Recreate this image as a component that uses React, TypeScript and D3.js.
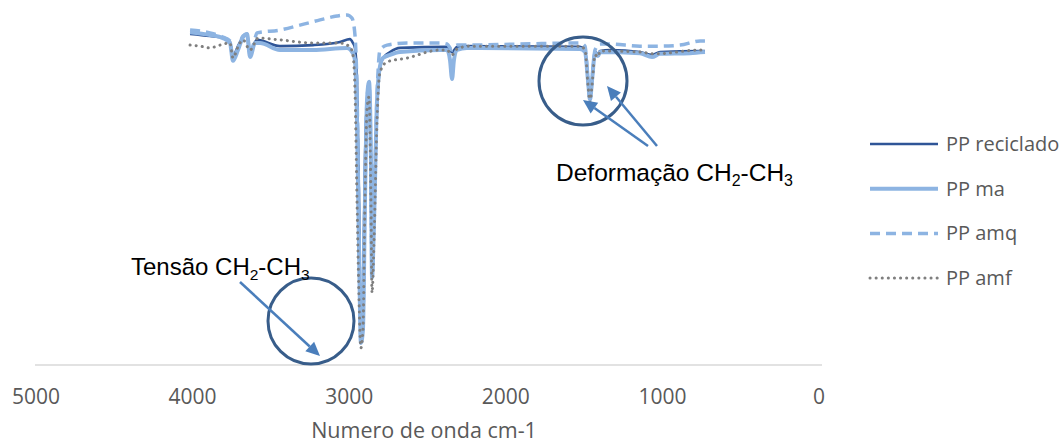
import React from "react";
import * as d3 from "d3";

type Pt = [number, number];

// wavenumber (cm-1), transmittance (%)
const ppReciclado: Pt[] = [
  [4029, 94.6], [3902, 94.0], [3806, 93.4], [3774, 92.3], [3755, 88.3], [3723, 91.1], [3691, 93.7], [3665, 94.3],
  [3646, 89.1], [3614, 92.3], [3602, 92.9], [3455, 91.1], [3244, 91.4], [3072, 92.3], [3008, 93.1], [2989, 92.0],
  [2976, 90.6], [2963, 81.4], [2950, 47.1], [2938, 7.7], [2925, 18.6], [2912, 58.6], [2899, 75.7], [2886, 80.3],
  [2874, 52.9], [2867, 25.7], [2854, 47.1], [2835, 72.9], [2816, 84.9], [2797, 87.7], [2752, 89.4], [2688, 90.6],
  [2388, 90.9], [2356, 89.4], [2324, 90.9], [2261, 91.1], [1539, 90.9], [1507, 90.0], [1488, 81.4], [1475, 76.3],
  [1462, 81.4], [1443, 89.4], [1424, 88.9], [1411, 89.7], [1347, 90.0], [1156, 89.4], [1079, 88.6], [1028, 89.4],
  [772, 89.7], [741, 89.7],
];

const ppMa: Pt[] = [
  [4029, 95.1], [3902, 94.3], [3819, 93.4], [3774, 92.0], [3755, 86.9], [3723, 90.0], [3691, 93.7], [3665, 94.6],
  [3646, 88.0], [3614, 92.0], [3582, 92.0], [3455, 90.0], [3244, 90.0], [3027, 90.6], [2989, 89.1], [2976, 87.1],
  [2963, 70.0], [2950, 32.9], [2938, 6.3], [2925, 10.0], [2912, 47.1], [2899, 75.7], [2886, 80.9], [2874, 58.6],
  [2867, 24.9], [2854, 41.4], [2835, 75.7], [2816, 85.4], [2797, 87.7], [2752, 88.6], [2688, 89.4], [2433, 90.0],
  [2388, 90.0], [2369, 87.1], [2356, 81.7], [2344, 87.1], [2324, 90.0], [2261, 90.6], [1539, 90.3], [1507, 89.4],
  [1488, 81.4], [1475, 75.7], [1462, 81.4], [1443, 89.1], [1424, 88.3], [1411, 89.4], [1156, 89.1], [1079, 88.0],
  [1028, 88.9], [837, 89.1], [741, 89.4],
];

const ppAmq: Pt[] = [
  [4029, 95.7], [3902, 94.9], [3819, 93.7], [3774, 92.6], [3755, 87.7], [3723, 90.6], [3691, 94.0], [3665, 94.6],
  [3646, 88.6], [3614, 93.4], [3602, 94.9], [3455, 95.7], [3327, 97.1], [3199, 98.6], [3091, 99.7], [3027, 100],
  [2995, 99.1], [2976, 94.3], [2963, 78.6], [2950, 38.6], [2938, 7.1], [2925, 12.9], [2912, 50.0], [2899, 75.7],
  [2886, 80.3], [2874, 55.7], [2867, 25.4], [2854, 44.3], [2835, 77.1], [2816, 90.0], [2771, 91.4], [2644, 92.0],
  [2433, 92.0], [2388, 91.7], [2356, 90.0], [2324, 91.4], [2261, 91.4], [1922, 91.7], [1539, 92.0], [1507, 91.1],
  [1488, 81.4], [1475, 76.0], [1462, 81.4], [1443, 90.0], [1411, 91.7], [1347, 91.7], [1156, 91.1], [1028, 91.1],
  [900, 91.4], [772, 92.6], [741, 92.6],
];

const ppAmf: Pt[] = [
  [4029, 91.4], [3966, 91.1], [3902, 90.6], [3870, 90.9], [3838, 91.4], [3774, 92.0], [3755, 87.7], [3723, 90.9],
  [3691, 92.9], [3646, 90.0], [3595, 93.4], [3455, 92.9], [3244, 92.0], [3072, 92.0], [3008, 90.9], [2989, 88.6],
  [2976, 78.6], [2963, 47.1], [2950, 18.6], [2938, 4.9], [2925, 10.0], [2912, 47.1], [2899, 72.9], [2886, 76.6],
  [2874, 47.1], [2867, 20.6], [2854, 35.7], [2835, 70.0], [2816, 83.7], [2771, 86.6], [2644, 87.7], [2433, 90.0],
  [2388, 90.0], [2356, 88.6], [2324, 90.3], [2241, 91.1], [1539, 91.1], [1507, 90.0], [1488, 80.0], [1475, 75.1],
  [1462, 80.0], [1443, 88.6], [1424, 88.0], [1411, 89.7], [1156, 89.4], [1060, 88.9], [772, 90.0], [741, 90.0],
];

const xTicks = [5000, 4000, 3000, 2000, 1000, 0];
const xTitle = "Numero de onda cm-1";

const seriesNames = ["PP reciclado", "PP ma", "PP amq", "PP amf"];
const seriesData = [ppReciclado, ppMa, ppAmq, ppAmf];

const annotTensaoLabel = "Tensão";
const annotDeformLabel = "Deformação";

const W = 1064;
const H = 445;

const styles = [
  { color: "#2F5597", width: 2.6, dash: undefined as string | undefined, cap: "butt" },
  { color: "#8DB4E2", width: 4, dash: undefined as string | undefined, cap: "butt" },
  { color: "#8DB4E2", width: 3.5, dash: "10,6", cap: "butt" },
  { color: "#7F7F7F", width: 3, dash: "0.1,6", cap: "round" },
];

export default function App() {
  const x = d3.scaleLinear().domain([5000, 0]).range([38, 821]);
  const y = d3.scaleLinear().domain([0, 100]).range([365, 15]);
  const line = d3
    .line<Pt>()
    .x((d) => x(d[0]))
    .y((d) => y(d[1]))
    .curve(d3.curveMonotoneX);

  const tickFont = "'Open Sans', sans-serif";
  const annFont = "'Liberation Sans', Arial, sans-serif";

  const arrow = (x1: number, y1: number, x2: number, y2: number, key: string) => {
    const ang = Math.atan2(y2 - y1, x2 - x1);
    const len = 14;
    const hw = 6.5;
    const bx = x2 - len * Math.cos(ang);
    const by = y2 - len * Math.sin(ang);
    const px = -Math.sin(ang) * hw;
    const py = Math.cos(ang) * hw;
    return (
      <g key={key}>
        <line x1={x1} y1={y1} x2={bx} y2={by} stroke="#4A7EBB" strokeWidth={2.5} />
        <path d={`M${x2},${y2}L${bx + px},${by + py}L${bx - px},${by - py}Z`} fill="#4A7EBB" />
      </g>
    );
  };

  return (
    <svg width={W} height={H} style={{ position: "absolute", left: 0, top: 0, background: "#fff" }}>
      {/* axis line */}
      <line x1={35} x2={822} y1={365} y2={365} stroke="#D9D9D9" strokeWidth={1.3} />
      {xTicks.map((t) => (
        <text key={t} x={x(t) - 2} y={404} textAnchor="middle" fontFamily={tickFont} fontSize={21} fill="#595959">
          {t}
        </text>
      ))}
      <text x={424} y={438} textAnchor="middle" fontFamily={tickFont} fontSize={21.5} fill="#595959">
        {xTitle}
      </text>

      {seriesData.map((d, i) => (
        <path
          key={seriesNames[i]}
          d={line(d) || ""}
          fill="none"
          stroke={styles[i].color}
          strokeWidth={styles[i].width}
          strokeDasharray={styles[i].dash}
          strokeLinecap={styles[i].cap as any}
          strokeLinejoin="round"
        />
      ))}

      {/* circles */}
      <circle cx={311} cy={321} r={43} fill="none" stroke="#385D8A" strokeWidth={3} />
      <circle cx={583} cy={81} r={44} fill="none" stroke="#385D8A" strokeWidth={3} />

      {/* arrows */}
      {arrow(240, 282, 320, 356, "a1")}
      {arrow(648, 146, 583, 100, "a2")}
      {arrow(657, 146, 607, 86, "a3")}

      {/* annotation labels */}
      <text x={131} y={275} fontFamily={annFont} fontSize={24} fill="#000">
        {annotTensaoLabel} CH<tspan fontSize={15.5} dy={5}>2</tspan>
        <tspan dy={-5}>-CH</tspan>
        <tspan fontSize={15.5} dy={5}>3</tspan>
      </text>
      <text x={556} y={181} fontFamily={annFont} fontSize={24.5} fill="#000">
        {annotDeformLabel} CH<tspan fontSize={16} dy={5}>2</tspan>
        <tspan dy={-5}>-CH</tspan>
        <tspan fontSize={16} dy={5}>3</tspan>
      </text>

      {/* legend */}
      {seriesNames.map((n, i) => {
        const ly = 144 + i * 44.7;
        return (
          <g key={n}>
            <line
              x1={870}
              x2={938}
              y1={ly}
              y2={ly}
              stroke={styles[i].color}
              strokeWidth={styles[i].width}
              strokeDasharray={styles[i].dash}
              strokeLinecap={styles[i].cap as any}
            />
            <text x={946} y={ly} dy="0.35em" fontFamily={tickFont} fontSize={20} fill="#595959">
              {n}
            </text>
          </g>
        );
      })}
    </svg>
  );
}
